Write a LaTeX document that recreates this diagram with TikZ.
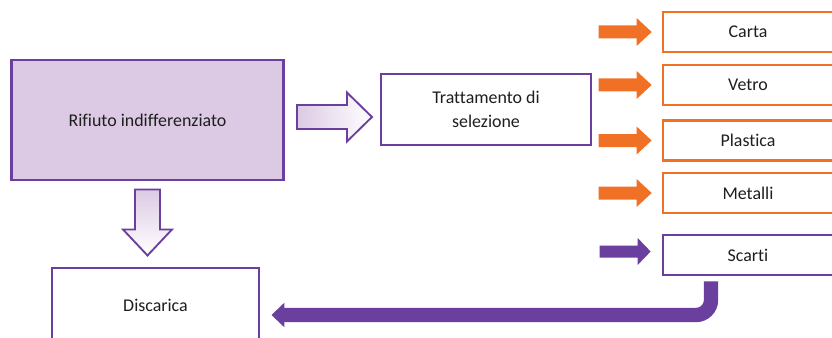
\documentclass[tikz,border=0pt]{standalone}
\usepackage{fontspec}
\setmainfont[Ligatures=NoCommon]{Carlito}
\usetikzlibrary{arrows.meta,positioning,calc,shadows}
\definecolor{viola}{HTML}{6A3F9E}
\definecolor{lilla}{HTML}{DCCAE4}
\definecolor{arancio}{HTML}{F07126}
\definecolor{testo}{HTML}{1E1E1E}

\begin{document}
\begin{tikzpicture}[x=0.03cm,y=-0.03cm] % one unit is one pixel of the sketch
\tikzset{every node/.style={font=\fontsize{15.3}{20}\selectfont, text=testo, align=center}} % text of all boxes
\tikzset{box/.style={draw=viola, line width=2.5pt, fill=white, drop shadow={opacity=0.2,shadow xshift=1.2pt,shadow yshift=-1.2pt}}}
\tikzset{obox/.style={box, draw=arancio, line width=2.3pt, minimum width=5.1cm, minimum height=1.2cm}}
\tikzset{hollow/.style={draw=viola, line width=1.6pt, line join=miter}} % block arrows with gradient
\useasboundingbox (0,0) rectangle (832,338);
\node[box, fill=lilla, minimum width=8.16cm, minimum height=3.6cm] (rifiuto) at (147.5,120) {Rifiuto indifferenziato};
\node[box, minimum width=6.3cm, minimum height=2.13cm] (tratt) at (486,109.5) {Trattamento di\\selezione};
\node[obox] (carta) at (748,32) {Carta};
\node[obox] (vetro) at (748,85) {Vetro};
\node[obox] (plastica) at (748,140.5) {Plastica};
\node[obox] (metalli) at (748,193) {Metalli};
\node[box, line width=2.3pt, minimum width=5.1cm, minimum height=1.2cm] (scarti) at (748,255) {Scarti};
\node[box, minimum width=6.21cm, minimum height=2.22cm] (discarica) at (155.5,305) {Discarica};
% hollow arrows out of the first box
\draw[hollow, left color=lilla, right color=white] ($(rifiuto.east)+(12,-3)$) -- ++(0,-12) -- ++(50,0) -- ++(0,-12.5) -- ++(25,24.5) -- ++(-25,24.5) -- ++(0,-12.5) -- ++(-50,0) -- cycle;
\draw[hollow, top color=lilla, bottom color=white] ($(rifiuto.south)+(0,8)$) -- ++(-12.5,0) -- ++(0,40) -- ++(-12,0) -- ++(24.5,26) -- ++(24.5,-26) -- ++(-12,0) -- ++(0,-40) -- cycle;
% arrows into the sorted materials
\foreach \n in {carta,vetro,plastica,metalli}
  \fill[arancio] ($(\n.west)+(-10,0)$) -- ++(-15,-14) -- ++(0,7.5) -- ++(-38,0) -- ++(0,13) -- ++(38,0) -- ++(0,7.5) -- cycle;
\fill[viola] ($(scarti.west)+(-11,-3.5)$) -- ++(-13,-13.5) -- ++(0,7.5) -- ++(-38,0) -- ++(0,12) -- ++(38,0) -- ++(0,7.5) -- cycle;
% waste back to landfill
\draw[viola, line width=0.43cm, rounded corners=0.45cm, -{Triangle[length=0.39cm,width=0.72cm]}] ($(scarti.south)+(-37,5)$) |- ($(discarica.east)+(11,10)$);
\end{tikzpicture}
\end{document}
